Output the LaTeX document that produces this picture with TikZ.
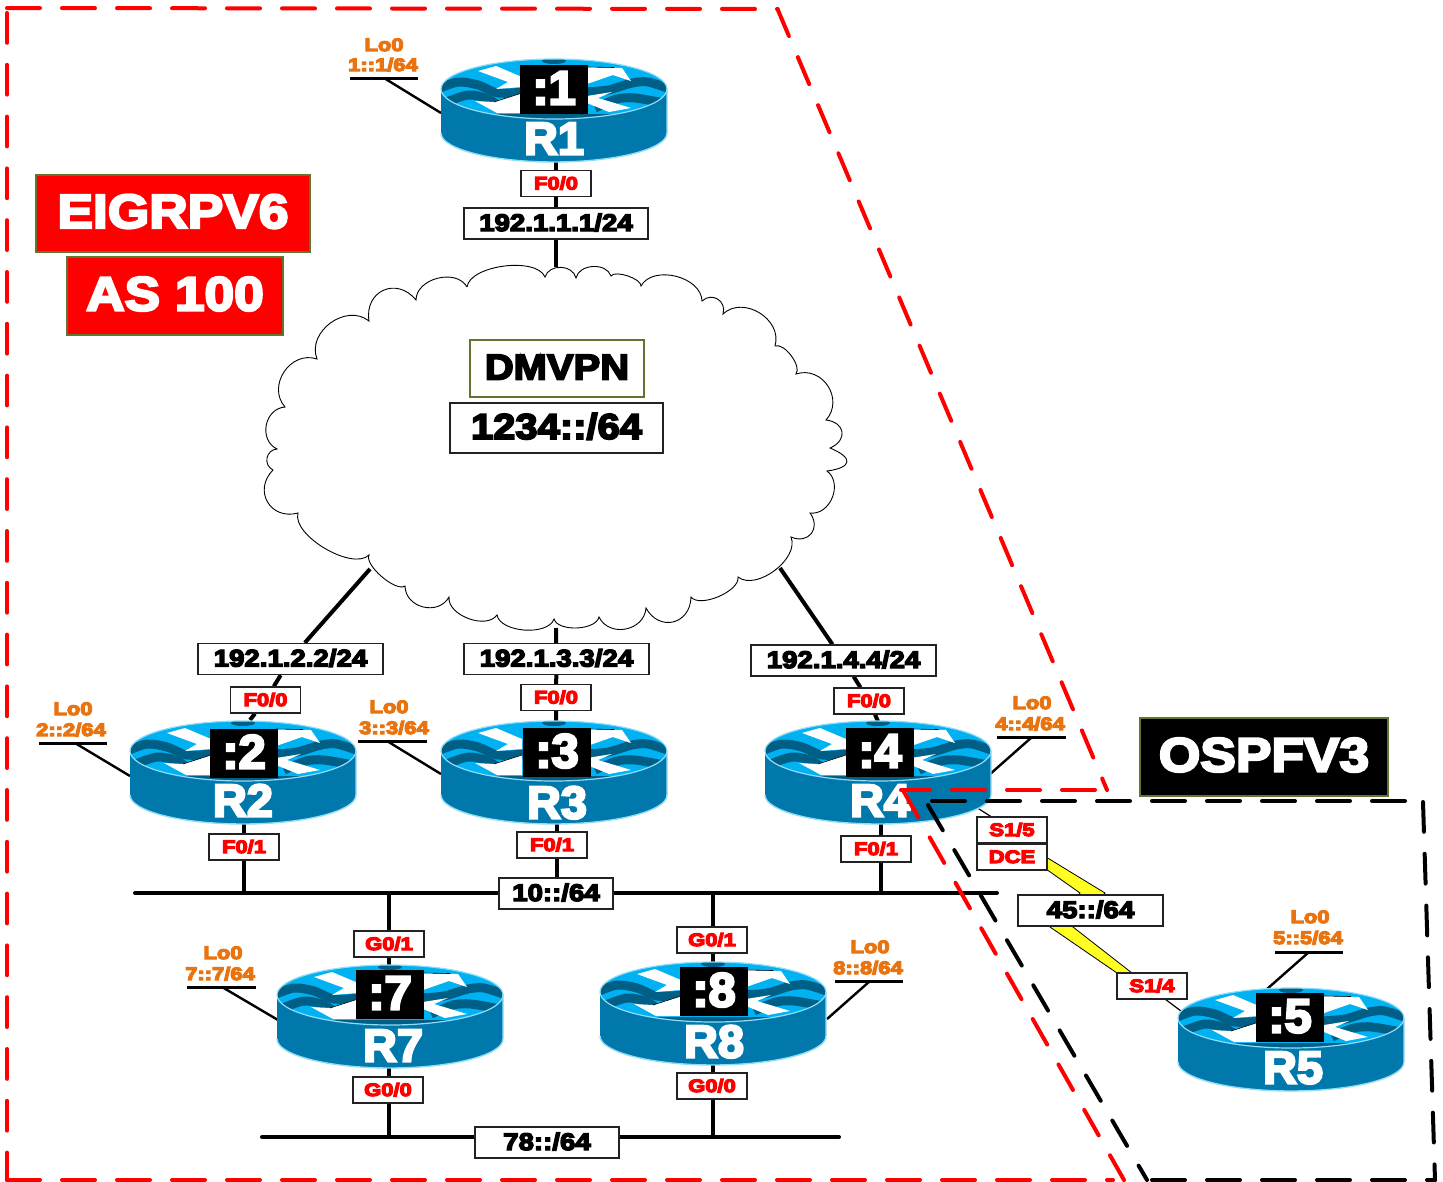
\documentclass[tikz,border=0pt]{standalone}
\usepackage{fontspec}
\usetikzlibrary{backgrounds}
\newfontfamily\blks{Liberation Sans}[BoldFeatures={FakeBold=7,FakeStretch=1.22}]
\newfontfamily\blk{Liberation Sans}[BoldFeatures={FakeBold=6,FakeStretch=1.15}]
\newfontfamily\blkw{Liberation Sans}[BoldFeatures={FakeBold=5,FakeStretch=1.11}]
\newfontfamily\blkn{Liberation Sans}[BoldFeatures={FakeBold=5,FakeStretch=1.02}]
\definecolor{bodyc}{HTML}{0078AB}
\definecolor{topc}{HTML}{00B2F2}
\definecolor{wavec}{HTML}{005F87}
\definecolor{rimc}{HTML}{8FDCF8}
\definecolor{olive}{HTML}{5F7530}
\definecolor{oran}{HTML}{E8730F}
\definecolor{edge}{HTML}{222222}
\definecolor{boltc}{HTML}{FFFF22}
\tikzset{
  x=1pt,y=-1pt,
  link/.style={line width=4pt,black},
  thinlink/.style={line width=1.2pt,black},
  lostub/.style={line width=2.4pt,black},
  lobar/.style={line width=3pt,black},
  boxbase/.style={draw=edge,fill=white,line width=1.3pt,inner sep=0pt,text depth=0pt},
  portbox/.style={boxbase,minimum width=70pt,minimum height=26pt,text=red,
    font=\blks\bfseries\fontsize{18}{20}\selectfont,text height=12pt},
  ipbox/.style={boxbase,minimum height=31pt,text=black,
    font=\blk\bfseries\fontsize{24}{26}\selectfont,text height=15pt},
  bigtext/.style={inner sep=0pt,text depth=0pt,text height=29pt,
    font=\blkw\bfseries\fontsize{48}{50}\selectfont},
  midbox/.style={boxbase,font=\blkw\bfseries\fontsize{36}{38}\selectfont,text height=22pt},
  lotext/.style={inner sep=0pt,text=oran,text depth=0pt,text height=12pt,
    font=\blks\bfseries\fontsize{18}{20}\selectfont},
  idbox/.style={fill=black,text=white,inner sep=0pt,minimum width=68pt,minimum height=49pt,
    text depth=0pt,text height=31pt,font=\blkn\bfseries\fontsize{48}{50}\selectfont},
  routername/.style={inner sep=0pt,text=white,text depth=0pt,text height=29pt,
    font=\blkn\bfseries\fontsize{46}{48}\selectfont},
  zonebase/.style={line width=4pt,line cap=round},
  hzone/.style={zonebase,dash pattern=on 33pt off 22pt},
  vzone/.style={zonebase,dash pattern=on 29.8pt off 22pt},
  dzone/.style={zonebase,dash pattern=on 29.3pt off 22.9pt},
  serial/.style={fill=boltc,draw=black,line width=.8pt},
  cloudshape/.style={fill=white,draw=black,line width=.9pt},
  bu/.style={bend left=75,looseness=#1},
}
\newcommand{\routerbase}[3]{%
\begin{scope}[shift={(#2,#3)}]
  \fill[bodyc] (-113,0) -- (-113,44) .. controls (-113,60) and (-62,73) .. (0,73)
     .. controls (62,73) and (113,60) .. (113,44) -- (113,0) -- cycle;
  \fill[topc] (0,0) ellipse [x radius=113,y radius=30];
  \begin{scope}
    \clip (0,0) ellipse [x radius=113,y radius=30];
    \draw[wavec,line width=9pt] plot[smooth] coordinates {(-116,0) (-96,-7) (-76,-4) (-56,4) (-30,3)};
    \draw[wavec,line width=9pt] plot[smooth] coordinates {(30,3) (54,1) (78,-6) (94,-7) (116,0)};
    \draw[wavec,line width=9pt] plot[smooth] coordinates {(-110,14) (-86,6) (-66,10) (-50,21)};
    \draw[wavec,line width=9pt] plot[smooth] coordinates {(41,19) (63,10) (81,9) (110,14)};
    \draw[wavec,line width=7pt] (-60,28) -- (60,28);
    \fill[wavec] (0,-28) ellipse [x radius=12,y radius=3];
  \end{scope}
  \fill[white] (-76,-18) -- (-58,-23) -- (-32,-12) -- (-32,-2) -- (-58,0) -- (-46,-7) -- cycle;
  \fill[white] (-79,12) -- (-60,13) -- (-32,4) -- (-32,24) -- (-57,24) -- cycle;
  \fill[white] (33,-22) -- (68,-21) -- (77,-8) -- (59,-14) -- (33,-5) -- cycle;
  \fill[white] (33,7) -- (58,3) -- (44,9) -- (77,19) -- (55,23) -- (33,14) -- cycle;
  \draw[black,line width=.6pt] (-60,13) -- (-32,4);
  \draw[black,line width=.6pt] (33,-22) -- (60,-21.5);
  \draw[rimc,line width=1.2pt] (0,0) ellipse [x radius=113,y radius=30];
  \draw[rimc,line width=1.4pt] (-113,44) .. controls (-113,60) and (-62,73) .. (0,73)
     .. controls (62,73) and (113,60) .. (113,44) -- (113,0);
  \node[inner sep=0pt,minimum width=226pt,minimum height=102pt] (#1) at (0,21.5) {};
\end{scope}}
\begin{document}
\begin{tikzpicture}
\useasboundingbox (0,0) rectangle (1443,1181);

% cloud
\coordinate (cloudtop) at (556,267);
\coordinate (cloudbot) at (556,628);
\coordinate (cloudl) at (370,569);
\coordinate (cloudr) at (780,568);
\draw[cloudshape]
  (467,287) to[bu=.72] (545,277) to[bu=1.16] (576,278) to[bu=1.06] (611,276) to[bu=.6] (641,286)
  to[bu=1.0] (702,301) to[bu=1.41] (723,314) to[bu=1.16] (775,346) to[bu=.72] (796,374)
  to[bu=1.3] (826,420) to[bu=1.77] (830,448) to[bu=2.82] (827,471) to[bu=1.16] (810,513) to[bu=1.59] (791,537)
  to[bu=.9] (738,577) to[bu=.72] (691,597) to[bu=1.52] (646,608) to[bu=1.24] (599,617) to[bu=.78] (554,619)
  to[bu=.81] (497,615) to[bu=.92] (449,597) to[bu=1.24] (405,586) to[bu=.6] (369,555)
  to[bu=.72] (298,513) to[bu=1.48] (273,470) to[bu=1.34] (277,449) to[bu=1.24] (285,407)
  to[bu=1.24] (317,359) to[bu=1.16] (369,321) to[bu=1.52] (416,300) to[bu=1.06] (467,287);

% routers
\routerbase{r1}{554}{89}
\routerbase{r2}{243}{751}
\routerbase{r3}{554}{751}
\routerbase{r4}{878}{751}
\routerbase{r7}{390}{995}
\routerbase{r8}{713}{992}
\routerbase{r5}{1291}{1018}

\node[idbox] (id1) at (554,89) {:1};
\node[idbox] (id2) at (244,753) {:2};
\node[idbox] (id3) at (557,752) {:3};
\node[idbox] (id4) at (880,752) {:4};
\node[idbox] (id7) at (390,994) {:7};
\node[idbox] (id8) at (714,991) {:8};
\node[idbox] (id5) at (1290,1017) {:5};
\node[routername] (n1) at (554,140) {R1};
\node[routername] (n2) at (243,802) {R2};
\node[routername] (n3) at (557,804) {R3};
\node[routername] (n4) at (880,802) {R4};
\node[routername] (n7) at (393,1047) {R7};
\node[routername] (n8) at (714,1043) {R8};
\node[routername] (n5) at (1293,1069) {R5};

% buses
\coordinate (b1a) at (135,893); \coordinate (b1b) at (997,893);
\coordinate (b2a) at (262,1137); \coordinate (b2b) at (839,1137);
\draw[link,line cap=round] (b1a) -- (b1b);
\draw[link,line cap=round] (b2a) -- (b2b);

% boxes
\node[portbox] (p1) at (556,183.5) {F0/0};
\node[ipbox,minimum width=184pt] (ip1) at (556,223.5) {192.1.1.1/24};
\node[boxbase,midbox,draw=olive,minimum width=174pt,minimum height=57pt] (dm) at (557,368.5) {DMVPN};
\node[midbox,minimum width=213pt,minimum height=50pt] (pre) at (556.5,428) {1234::/64};
\node[ipbox,minimum width=185pt] (ip2) at (290.5,659) {192.1.2.2/24};
\node[ipbox,minimum width=185pt] (ip3) at (556.5,659) {192.1.3.3/24};
\node[ipbox,minimum width=185pt] (ip4) at (843.5,660.5) {192.1.4.4/24};
\node[portbox] (p2) at (265.5,700) {F0/0};
\node[portbox] (p3) at (556,697.5) {F0/0};
\node[portbox] (p4) at (869,701) {F0/0};
\node[portbox] (q2) at (244,847) {F0/1};
\node[portbox] (q3) at (552,845) {F0/1};
\node[portbox] (q4) at (876,849) {F0/1};
\node[ipbox,minimum width=114pt] (net10) at (556,893.5) {10::/64};
\node[portbox] (g7a) at (389,944) {G0/1};
\node[portbox] (g8a) at (712,940) {G0/1};
\node[portbox] (g7b) at (388,1090) {G0/0};
\node[portbox] (g8b) at (712,1086) {G0/0};
\node[ipbox,minimum width=144pt] (net78) at (547,1142.5) {78::/64};

% serial
\coordinate (sa) at (965,800);
\coordinate (sb) at (1185,1014);
\coordinate (sc) at (1165,999);
\draw[serial] (1046,857) -- (1105,893) -- (1073,927) -- (1132,973) -- (1117,973) -- (1050,927) -- (1080,893) -- (1046,869) -- cycle;
\node[portbox] (s15) at (1012,830) {S1/5};
\node[portbox] (dce) at (1012,857) {DCE};
\node[ipbox,minimum width=145pt] (net45) at (1090.5,910.5) {45::/64};
\node[portbox] (s14) at (1152,986) {S1/4};

% loopback labels
\node[lotext] (l1a) at (384,45) {Lo0};   \node[lotext] (l1b) at (383,65) {1::1/64};
\node[lotext] (l2a) at (73,709) {Lo0};   \node[lotext] (l2b) at (71,730) {2::2/64};
\node[lotext] (l3a) at (389,707) {Lo0};  \node[lotext] (l3b) at (394,728) {3::3/64};
\node[lotext] (l4a) at (1032,703) {Lo0}; \node[lotext] (l4b) at (1030,724) {4::4/64};
\node[lotext] (l7a) at (223,953) {Lo0};  \node[lotext] (l7b) at (220,974) {7::7/64};
\node[lotext] (l8a) at (870,947) {Lo0};  \node[lotext] (l8b) at (868,968) {8::8/64};
\node[lotext] (l5a) at (1310,917) {Lo0}; \node[lotext] (l5b) at (1308,938) {5::5/64};
\coordinate (u1) at (384,78);   \coordinate (v1) at (441,113);
\coordinate (u2) at (75,743);   \coordinate (v2) at (130,776);
\coordinate (u3) at (387,741);  \coordinate (v3) at (441,774);
\coordinate (u4) at (1032,737); \coordinate (v4) at (989,775);
\coordinate (u7) at (222,987);  \coordinate (v7) at (278,1020);
\coordinate (u8) at (870,981);  \coordinate (v8) at (827,1019);
\coordinate (u5) at (1309,952); \coordinate (v5) at (1267,989);
\draw[lobar] (350,78) -- (418,78);
\draw[lobar] (39,743) -- (107,743);
\draw[lobar] (358,741) -- (427,741);
\draw[lobar] (997,737) -- (1066,737);
\draw[lobar] (187,987) -- (256,987);
\draw[lobar] (835,981) -- (903,981);
\draw[lobar] (1275,952) -- (1343,952);

% header boxes
\node[draw=olive,fill=red,line width=1.3pt,bigtext,text=white,minimum width=274pt,minimum height=77pt] (eig) at (173,213.5) {EIGRPV6};
\node[draw=olive,fill=red,line width=1.3pt,bigtext,text=white,minimum width=216pt,minimum height=78pt] (as) at (175,296) {AS 100};
\node[draw=olive,fill=black,line width=1.3pt,bigtext,text=white,minimum width=248pt,minimum height=78pt] (ospf) at (1264,757) {OSPFV3};

% zones
\coordinate (z1) at (7,8);
\coordinate (z2) at (777.5,9);
\coordinate (z3) at (1107,790);
\coordinate (z4) at (901,790);
\coordinate (z4b) at (904,792);
\coordinate (z5) at (1124,1180);
\coordinate (z6) at (1113,1180);
\coordinate (z7) at (7,1180);
\coordinate (z8) at (7,13);
\draw[hzone,red] (z1) -- (z2);
\draw[dzone,red] (z2) -- (z3);
\draw[hzone,red,dash phase=43pt] (z3) -- (z4);
\draw[dzone,red] (z4b) -- (z5);
\draw[hzone,red] (z7) -- (z6);
\draw[vzone,red] (z8) -- (z7);
\coordinate (y1) at (932,801);
\coordinate (y2) at (1423,801);
\coordinate (y2b) at (1423,802);
\coordinate (y3) at (1435,1180);
\coordinate (y4) at (1152,1180);
\coordinate (y5) at (1147,1180);
\coordinate (y6) at (928,805);
\draw[hzone,black] (y1) -- (y2);
\draw[vzone,black] (y2b) -- (y3);
\draw[hzone,black] (y4) -- (y3);
\draw[dzone,black] (y6) -- (y5);

% connectors behind everything
\begin{pgfonlayer}{background}
\draw[link] (r1.south -| ip1) -- (p1) -- (ip1) -- (cloudtop);
\draw[link] (cloudl) -- (ip2) -- (p2) -- (250,720);
\draw[link] (cloudbot) -- (ip3) -- (p3) -- (r3.north -| p3);
\draw[link] (cloudr) -- (ip4) -- (p4) -- (r4.north);
\draw[link] (r2.south -| q2) -- (q2) -- (q2 |- b1a);
\draw[link] (557,823) -- (557,893);
\draw[link] (881,823) -- (881,893);
\draw[link] (389,893) -- (g7a) -- (389,967);
\draw[link] (713,893) -- (713,964);
\draw[link] (389,1067) -- (389,1137);
\draw[link] (713,1064) -- (713,1137);
\draw[thinlink] (sa) -- (s15);
\draw[thinlink] (sc) -- (sb);
\draw[lostub] (u1) -- (v1);
\draw[lostub] (u2) -- (v2);
\draw[lostub] (u3) -- (v3);
\draw[lostub] (u4) -- (v4);
\draw[lostub] (u7) -- (v7);
\draw[lostub] (u8) -- (v8);
\draw[lostub] (u5) -- (v5);
\end{pgfonlayer}
\end{tikzpicture}
\end{document}
